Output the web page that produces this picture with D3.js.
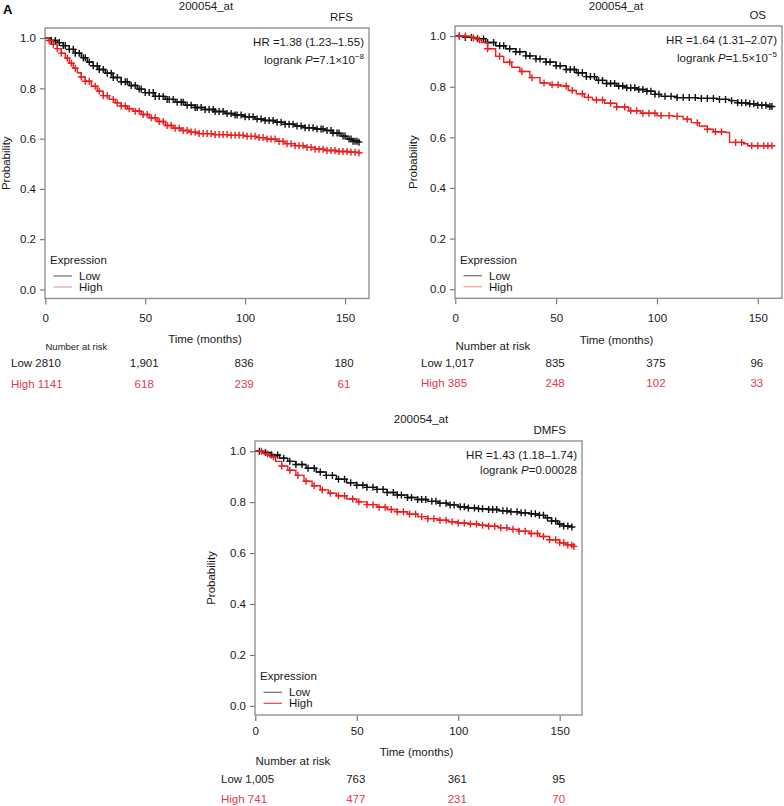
<!DOCTYPE html>
<html><head><meta charset="utf-8">
<script src="https://cdn.jsdelivr.net/npm/d3@7"></script>
<style>
body{margin:0;background:#fff}
svg{display:block}
text{font-family:"Liberation Sans",Arial,Helvetica,sans-serif;fill:#1a1a1a}
</style>
</head><body>
<svg id="c" width="784" height="806"></svg>
<script>
// ---------------- DATA ----------------
const probeName = "200054_at";
const endpoints = ["RFS", "OS", "DMFS"];
const hrTexts = ["HR =1.38 (1.23–1.55)", "HR =1.64 (1.31–2.07)", "HR =1.43 (1.18–1.74)"];
const pMantissa = ["7.1×10", "1.5×10", "0.00028"];
const pExponent = ["−8", "−5", ""];
const xTicks = [0, 50, 100, 150];
const yTicks = [0, 0.2, 0.4, 0.6, 0.8, 1.0];
const groups = ["Low", "High"];
const riskTimes = [0, 50, 100, 150];

// Kaplan–Meier breakpoints [months, survival probability]
const rfsLow = [[0,1],[3,0.99],[6,0.982],[9,0.97],[12,0.955],[15,0.94],[18,0.922],[21,0.905],[24,0.89],[27,0.875],[30,0.86],[34,0.843],[38,0.826],[42,0.811],[46,0.797],[50,0.783],[55,0.768],[60,0.756],[65,0.745],[70,0.733],[75,0.724],[80,0.716],[85,0.708],[90,0.7],[95,0.694],[100,0.687],[105,0.678],[110,0.672],[115,0.665],[120,0.657],[125,0.65],[130,0.643],[135,0.638],[140,0.632],[144,0.622],[148,0.61],[151,0.598],[154,0.59],[157,0.586]];
const rfsHigh = [[0,1],[2,0.99],[4,0.975],[6,0.958],[8,0.94],[10,0.92],[12,0.9],[14,0.88],[16,0.862],[18,0.845],[20,0.828],[23,0.808],[26,0.789],[29,0.771],[32,0.756],[35,0.742],[38,0.73],[41,0.719],[44,0.709],[48,0.696],[52,0.683],[56,0.668],[60,0.652],[64,0.641],[68,0.632],[72,0.626],[77,0.62],[84,0.616],[92,0.613],[100,0.609],[106,0.604],[111,0.598],[116,0.589],[120,0.58],[125,0.572],[130,0.565],[135,0.558],[140,0.553],[146,0.549],[152,0.546],[157,0.544]];
const osLow = [[0,1],[5,0.995],[10,0.99],[15,0.975],[20,0.962],[25,0.95],[30,0.938],[35,0.922],[40,0.91],[45,0.898],[50,0.883],[55,0.868],[60,0.855],[65,0.84],[70,0.825],[75,0.813],[80,0.803],[85,0.796],[90,0.789],[95,0.782],[99,0.77],[102,0.762],[110,0.757],[120,0.754],[130,0.75],[136,0.745],[140,0.737],[145,0.733],[150,0.727],[155,0.722],[157,0.722]];
const osHigh = [[0,1],[8,0.993],[11,0.985],[13,0.975],[16,0.95],[20,0.92],[24,0.897],[28,0.877],[32,0.86],[37,0.836],[42,0.815],[47,0.808],[52,0.803],[56,0.785],[60,0.772],[64,0.758],[68,0.748],[74,0.735],[80,0.72],[86,0.705],[92,0.695],[100,0.686],[108,0.683],[113,0.672],[117,0.658],[121,0.645],[125,0.632],[128,0.622],[134,0.619],[136,0.58],[143,0.575],[145,0.567],[157,0.567]];
const dmfsLow = [[0,1],[4,0.995],[8,0.985],[12,0.972],[16,0.96],[20,0.948],[25,0.933],[30,0.918],[35,0.905],[40,0.89],[45,0.876],[50,0.866],[55,0.858],[60,0.85],[65,0.838],[70,0.828],[75,0.818],[80,0.81],[85,0.803],[90,0.796],[95,0.789],[100,0.782],[105,0.777],[110,0.774],[115,0.771],[120,0.766],[125,0.762],[130,0.758],[135,0.754],[140,0.748],[143,0.738],[146,0.726],[149,0.714],[152,0.706],[156,0.702]];
const dmfsHigh = [[0,1],[4,0.99],[7,0.978],[10,0.96],[13,0.942],[16,0.925],[20,0.905],[24,0.882],[28,0.864],[32,0.848],[36,0.835],[40,0.825],[45,0.812],[50,0.801],[55,0.79],[60,0.78],[65,0.771],[70,0.762],[75,0.753],[80,0.743],[85,0.735],[90,0.729],[95,0.723],[100,0.718],[105,0.714],[110,0.709],[115,0.705],[120,0.699],[125,0.693],[130,0.686],[135,0.677],[140,0.665],[145,0.652],[150,0.64],[153,0.632],[157,0.626]];

// censoring times (months)
const rfsLowCensor = [3,5,7,9,10,12,14,15,17,19,20,22,24,26,27,29,31,33,34,36,38,40,41,43,45,47,48,50,52,54,55,57,59,61,62,64,66,68,69,71,73,75,76,78,80,82,84,85,87,89,91,93,95,96,98,100,102,104,106,108,110,112,114,116,118,120,122,124,126,128,130,132,134,136,138,139,141,143,144,146,147,149,150,152,153,154,155,156,157];
const rfsHighCensor = [2,4,6,8,11,13,15,18,20,22,25,27,29,31,34,36,38,40,42,45,47,49,51,53,55,57,59,61,63,65,67,69,71,73,75,77,79,81,83,85,87,89,91,93,95,97,99,101,103,105,107,109,111,113,115,117,119,121,123,125,127,129,131,133,135,137,139,141,143,145,147,149,151,153,155,157];
const osLowCensor = [2,5,8,11,14,16,19,22,24,27,30,32,35,37,40,42,45,47,50,52,55,57,59,61,63,65,67,69,71,73,75,77,79,81,83,85,87,89,91,93,95,97,99,101,104,107,110,113,116,119,122,125,128,131,134,137,140,142,144,146,148,150,152,154,156,157];
const osHighCensor = [2,5,9,12,16,22,27,33,38,44,48,51,55,58,63,66,70,73,77,80,84,87,90,93,96,99,102,106,110,115,120,125,129,132,139,142,147,150,153,155,157];
const dmfsLowCensor = [2,5,8,11,14,17,20,23,26,29,32,35,38,41,44,47,50,53,55,58,60,63,65,68,70,72,75,77,80,82,84,87,89,91,94,96,98,101,103,105,108,110,112,115,117,119,122,124,126,129,131,133,136,138,140,142,144,146,148,150,152,154,156];
const dmfsHighCensor = [3,6,9,13,17,21,25,29,33,37,41,44,48,51,55,58,61,64,67,70,73,76,79,82,85,88,91,94,97,100,103,106,109,112,115,118,121,124,127,130,133,136,139,142,145,148,150,152,154,156,157];

// number at risk at 0, 50, 100, 150 months
const rfsRiskLow = ["2810", "1,901", "836", "180"];
const rfsRiskHigh = ["1141", "618", "239", "61"];
const osRiskLow = ["1,017", "835", "375", "96"];
const osRiskHigh = ["385", "248", "102", "33"];
const dmfsRiskLow = ["1,005", "763", "361", "95"];
const dmfsRiskHigh = ["741", "477", "231", "70"];

// ---------------- LAYOUT ----------------
const panels = [
  {box:{l:45,t:28,r:369,b:298.5}, xMax:162, title:[206,9.5], xPad:9, timeY:44, narFont:9.5, narY:51.5, lowY:68.5, highY:89.5, probDx:35.5, legHigh:"#f3a3a3",
   km:[rfsLow, rfsHigh], cens:[rfsLowCensor, rfsHighCensor], risk:[rfsRiskLow, rfsRiskHigh], logY:35.5},
  {box:{l:455,t:26,r:782,b:298.3}, xMax:162, title:[616,9.5], xPad:10, timeY:46, narFont:11.5, narY:52, lowY:68.5, highY:89, probDx:38.5, legHigh:"#f3a3a3",
   km:[osLow, osHigh], cens:[osLowCensor, osHighCensor], risk:[osRiskLow, osRiskHigh], logY:35.5},
  {box:{l:255,t:441,r:582,b:715}, xMax:161, title:[421,423], xPad:6, timeY:41, narFont:11.5, narY:50, lowY:67.5, highY:88, probDx:40, legHigh:"#e65a5a",
   km:[dmfsLow, dmfsHigh], cens:[dmfsLowCensor, dmfsHighCensor], risk:[dmfsRiskLow, dmfsRiskHigh], logY:32.5}
];
const curveCol = ["#111111", "#ee1c1c"];
const riskCol = ["#1a1a1a", "#e03a4e"];
const axisCol = "#707070";
const FS = 11.5;

const svg = d3.select("#c");

svg.append("text").attr("x", 3).attr("y", 13.5).attr("font-size", 13).attr("font-weight", "bold").style("fill","#000").text("A");

panels.forEach((P, i) => {
  const {l, t, r, b} = P.box;
  const x = d3.scaleLinear().domain([0, P.xMax]).range([l + 0.3, r]);
  const y = d3.scaleLinear().domain([-0.036, 1.04]).range([b, t]);
  const g = svg.append("g");

  // title & endpoint
  g.append("text").attr("x", P.title[0]).attr("y", P.title[1]).attr("text-anchor", "middle").attr("font-size", FS).text(probeName);
  g.append("text").attr("x", r - 16).attr("y", t - 7).attr("text-anchor", "end").attr("font-size", FS).text(endpoints[i]);

  // axes
  const ya = g.append("g").attr("transform", `translate(${l},0)`)
    .call(d3.axisLeft(y).tickValues(yTicks).tickFormat(d3.format(".1f")).tickSize(5).tickSizeOuter(0).tickPadding(4));
  const xa = g.append("g").attr("transform", `translate(0,${b})`)
    .call(d3.axisBottom(x).tickValues(xTicks).tickSize(6).tickSizeOuter(0).tickPadding(P.xPad));
  [ya, xa].forEach(a => {
    a.select(".domain").remove();
    a.selectAll(".tick line").attr("stroke", axisCol).attr("stroke-width", 1.1);
    a.selectAll(".tick text").attr("font-size", FS).attr("font-family", '"Liberation Sans",Arial,sans-serif').style("fill", "#1a1a1a");
  });

  // box
  g.append("rect").attr("x", l).attr("y", t).attr("width", r - l).attr("height", b - t)
    .attr("fill", "none").attr("stroke", "#8a8a8a").attr("stroke-width", 1.3);

  // y label
  g.append("text").attr("transform", `translate(${l - P.probDx},${(t + b) / 2}) rotate(-90)`)
    .attr("text-anchor", "middle").attr("font-size", FS).text("Probability");

  // x label
  g.append("text").attr("x", (l + r) / 2 - 2).attr("y", b + P.timeY).attr("text-anchor", "middle").attr("font-size", FS).text("Time (months)");

  // HR and logrank
  g.append("text").attr("x", r - 5).attr("y", t + 17.5).attr("text-anchor", "end").attr("font-size", FS).text(hrTexts[i]);
  const lg = g.append("text").attr("x", r - 5).attr("y", t + P.logY).attr("text-anchor", "end").attr("font-size", FS);
  lg.append("tspan").text("logrank ");
  lg.append("tspan").attr("font-style", "italic").text("P");
  lg.append("tspan").text("=" + pMantissa[i]);
  if (pExponent[i]) lg.append("tspan").attr("dy", -5).attr("font-size", 8).text(pExponent[i]);

  // KM curves (Low first, High on top)
  const line = d3.line().x(d => x(d[0])).y(d => y(d[1])).curve(d3.curveStepAfter);
  const bis = d3.bisector(d => d[0]).right;
  [0, 1].forEach(k => {
    const data = P.km[k];
    g.append("path").datum(data).attr("d", line).attr("fill", "none")
      .attr("stroke", curveCol[k]).attr("stroke-width", 1.4);
    const marks = P.cens[k].map(c => [c, data[Math.max(0, bis(data, c) - 1)][1]]);
    g.append("g").selectAll("path").data(marks).join("path")
      .attr("transform", d => `translate(${x(d[0])},${y(d[1])})`)
      .attr("d", "M-3.5,0H3.5M0,-3.5V3.5")
      .attr("stroke", curveCol[k]).attr("stroke-width", 1.4).attr("fill", "none");
  });

  // legend
  const y0 = y(0);
  g.append("text").attr("x", l + 5).attr("y", y0 - 25.5).attr("font-size", FS).text("Expression");
  const legCols = ["#7a7a7a", P.legHigh];
  groups.forEach((nm, k) => {
    const ly = y0 - 13.5 + 11 * k;
    g.append("line").attr("x1", l + 8.5).attr("x2", l + 27).attr("y1", ly).attr("y2", ly)
      .attr("stroke", legCols[k]).attr("stroke-width", 1.3);
    g.append("text").attr("x", l + 34).attr("y", ly + 4).attr("font-size", FS).text(nm);
  });

  // number at risk
  g.append("text").attr("x", l + 0.5).attr("y", b + P.narY).attr("font-size", P.narFont).text("Number at risk");
  [0, 1].forEach(k => {
    const ry = b + (k === 0 ? P.lowY : P.highY);
    const vals = P.risk[k];
    g.append("text").attr("x", l - 34).attr("y", ry).attr("font-size", FS).style("fill", riskCol[k])
      .text(groups[k] + " " + vals[0]);
    riskTimes.slice(1).forEach((tm, j) => {
      g.append("text").attr("x", x(tm) - 1).attr("y", ry).attr("text-anchor", "middle")
        .attr("font-size", FS).style("fill", riskCol[k]).text(vals[j + 1]);
    });
  });
});
</script>
</body></html>
